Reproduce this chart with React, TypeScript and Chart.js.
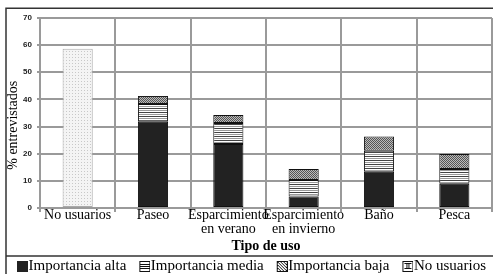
import React, { useEffect, useRef } from "react";
import { Chart, registerables } from "chart.js";

Chart.register(...registerables);

const categories: (string | string[])[] = [
  "No usuarios",
  "Paseo",
  ["Esparcimiento", "en verano"],
  ["Esparcimiento", "en invierno"],
  "Baño",
  "Pesca",
];
const seriesNames = ["Importancia alta", "Importancia media", "Importancia baja", "No usuarios"];
const importanciaAlta = [null, 31.8, 23.6, 4.2, 13.4, 8.9];
const importanciaMedia = [null, 6.5, 7.7, 6.1, 7.7, 5.5];
const importanciaBaja = [null, 3.0, 3.0, 4.1, 5.2, 5.5];
const noUsuarios = [58.7, null, null, null, null, null];
const yTicks = { min: 0, max: 70, step: 10 };
const xTitle = "Tipo de uso";
const yTitle = "% entrevistados";

function makePattern(w: number, h: number, draw: (c: CanvasRenderingContext2D) => void) {
  const cv = document.createElement("canvas");
  cv.width = w;
  cv.height = h;
  const c = cv.getContext("2d")!;
  draw(c);
  const main = document.createElement("canvas").getContext("2d")!;
  return main.createPattern(cv, "repeat")!;
}

function makeIcon(kind: number) {
  const W = 29, H = 11, ox = 18;
  const cv = document.createElement("canvas");
  cv.width = W;
  cv.height = H;
  const c = cv.getContext("2d")!;
  c.strokeStyle = "#111";
  c.lineWidth = 1;
  if (kind === 0) {
    c.fillStyle = "#222";
    c.fillRect(ox, 0, 11, 11);
    return cv;
  }
  c.fillStyle = "#fff";
  c.fillRect(ox, 0, 11, 11);
  c.save();
  c.beginPath();
  c.rect(ox, 0, 11, 11);
  c.clip();
  c.beginPath();
  if (kind === 1) {
    c.moveTo(ox, 3.5); c.lineTo(ox + 11, 3.5);
    c.moveTo(ox, 5.5); c.lineTo(ox + 11, 5.5);
    c.moveTo(ox, 7.5); c.lineTo(ox + 11, 7.5);
  } else if (kind === 2) {
    for (let k = -9; k <= 9; k += 3) {
      c.moveTo(ox + k, 0);
      c.lineTo(ox + k + 11, 11);
    }
  } else {
    c.moveTo(ox + 2, 2.5); c.lineTo(ox + 9, 2.5);
    c.moveTo(ox + 4.5, 2); c.lineTo(ox + 4.5, 7);
    c.moveTo(ox + 6.5, 2); c.lineTo(ox + 6.5, 7);
    c.moveTo(ox + 2, 7.5); c.lineTo(ox + 9, 7.5);
  }
  c.stroke();
  c.restore();
  c.strokeRect(ox + 0.5, 0.5, 10, 10);
  return cv;
}

const framePlugin = {
  id: "frame",
  afterDraw(chart: any) {
    const c = chart.ctx;
    c.save();
    c.strokeStyle = "#333";
    c.lineWidth = 1.5;
    c.beginPath();
    c.moveTo(6, 274);
    c.lineTo(6, 8.25);
    c.lineTo(493, 8.25);
    c.moveTo(6, 256);
    c.lineTo(493, 256);
    c.stroke();
    c.restore();
  },
};

export default function App() {
  const ref = useRef<HTMLCanvasElement>(null);
  useEffect(() => {
    const pMedia = makePattern(4, 4, (c) => {
      c.fillStyle = "#fff"; c.fillRect(0, 0, 4, 4);
      c.fillStyle = "#444"; c.fillRect(0, 0, 4, 1);
      c.fillStyle = "#999"; c.fillRect(0, 2, 4, 1);
    });
    const pBaja = makePattern(2, 2, (c) => {
      c.fillStyle = "#bbb"; c.fillRect(0, 0, 2, 2);
      c.fillStyle = "#555"; c.fillRect(0, 0, 1, 1); c.fillRect(1, 1, 1, 1);
    });
    const pNo = makePattern(3, 3, (c) => {
      c.fillStyle = "#f4f4f4"; c.fillRect(0, 0, 3, 3);
      c.fillStyle = "#c8c8c8"; c.fillRect(0, 0, 1, 1);
    });
    const icons = [0, 1, 2, 3].map(makeIcon);
    const serif = "'Liberation Serif', 'Times New Roman', serif";
    const chart = new Chart(ref.current!, {
      type: "bar",
      data: {
        labels: categories as any,
        datasets: [
          { label: seriesNames[0], data: importanciaAlta as any, backgroundColor: "#222", borderColor: "#111" },
          { label: seriesNames[1], data: importanciaMedia as any, backgroundColor: pMedia, borderColor: "#111" },
          { label: seriesNames[2], data: importanciaBaja as any, backgroundColor: pBaja, borderColor: "#111" },
          { label: seriesNames[3], data: noUsuarios as any, backgroundColor: pNo, borderColor: "#aaa" },
        ].map((d) => ({ ...d, borderWidth: 1, borderSkipped: false, barPercentage: 0.4, categoryPercentage: 1 })),
      },
      options: {
        animation: false,
        responsive: true,
        maintainAspectRatio: false,
        layout: { padding: { left: 0, top: 18, right: 1, bottom: 1 } },
        plugins: {
          tooltip: { enabled: false },
          legend: {
            position: "bottom",
            align: "center",
            maxHeight: 16,
            labels: {
              usePointStyle: true,
              boxWidth: 16,
              boxHeight: 11,
              padding: 2,
              color: "#000",
              font: { family: serif, size: 15 },
              generateLabels: (ch: any) => {
                const items = (Chart.defaults.plugins.legend.labels as any).generateLabels(ch);
                return items.map((it: any, i: number) => ({ ...it, pointStyle: icons[i], fontColor: "#000", lineWidth: 0 }));
              },
            },
          } as any,
        },
        scales: {
          x: {
            stacked: true,
            afterFit: (s: any) => { s.height = 49; },
            grid: { color: "#9a9a9a", lineWidth: 2, tickLength: 4, offset: true },
            border: { color: "#9a9a9a", width: 2 },
            ticks: { color: "#000", padding: -3, maxRotation: 0, autoSkip: false, font: { family: serif, size: 14, lineHeight: 0.95 } },
            title: { display: true, text: xTitle, color: "#000", padding: { top: 0, bottom: 2 }, font: { family: serif, size: 14, weight: "bold" } },
          },
          y: {
            stacked: true,
            min: yTicks.min,
            max: yTicks.max,
            afterFit: (s: any) => { s.width = 40; },
            grid: { color: "#9a9a9a", lineWidth: 2, tickLength: 3 },
            border: { color: "#9a9a9a", width: 2 },
            ticks: { stepSize: yTicks.step, color: "#222", padding: 5, font: { family: "'Liberation Sans', Arial, sans-serif", size: 8, weight: "bold" } },
            title: { display: true, text: yTitle + "       ", color: "#000", padding: { top: 5, bottom: 0 }, font: { family: serif, size: 14 } },
          },
        },
      },
      plugins: [framePlugin],
    } as any);
    return () => chart.destroy();
  }, []);
  return (
    <div style={{ position: "absolute", left: 0, top: 0, width: 493, height: 274, background: "#fff" }}>
      <canvas ref={ref} />
    </div>
  );
}
